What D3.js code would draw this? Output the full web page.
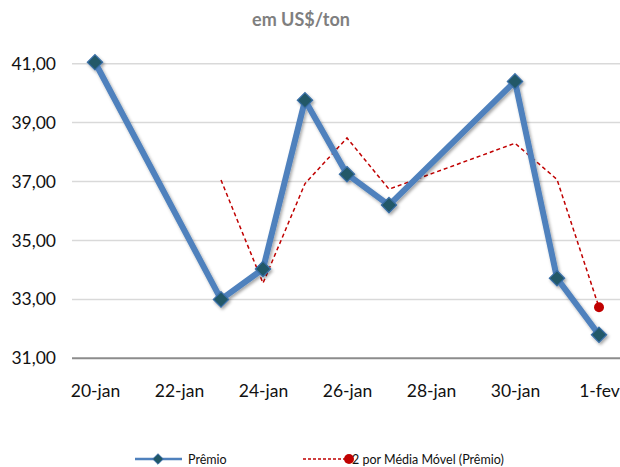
<!DOCTYPE html>
<html>
<head>
<meta charset="utf-8">
<script src="https://cdn.jsdelivr.net/npm/d3@7"></script>
<style>
  body { margin: 0; background: #fff; }
  svg { display: block; font-family: Lato, "Open Sans", sans-serif; }
</style>
</head>
<body>
<svg width="620" height="467"></svg>
<script>
// dates of the observations
var dates = ["2015-01-20","2015-01-23","2015-01-24","2015-01-25","2015-01-26","2015-01-27","2015-01-30","2015-01-31","2015-02-01"];
var premio = [41.05, 33.0, 34.03, 39.76, 37.25, 36.2, 40.4, 33.72, 31.8];
// 2-period moving average, starts at the 2nd point
var mediaMovel = [null, 37.05, 33.55, 36.93, 38.48, 36.74, 38.3, 37.07, 32.73];
var xTicks = ["2015-01-20","2015-01-22","2015-01-24","2015-01-26","2015-01-28","2015-01-30","2015-02-01"];
var yTicks = [31, 33, 35, 37, 39, 41];
var months = ["jan","fev","mar","abr","mai","jun","jul","ago","set","out","nov","dez"];

var svg = d3.select("svg");
var parse = d3.utcParse("%Y-%m-%d");
var halfDay = 12 * 3600 * 1000;

var x = d3.scaleUtc()
  .domain([+parse("2015-01-20") - halfDay, +parse("2015-02-01") + halfDay])
  .range([74, 620]);
var y = d3.scaleLinear().domain([31, 41]).range([358.3, 63.7]);

var defs = svg.append("defs");
var f = defs.append("filter").attr("id", "sh").attr("x", "-10%").attr("y", "-10%").attr("width", "130%").attr("height", "130%");
f.append("feDropShadow").attr("dx", 1.5).attr("dy", 2).attr("stdDeviation", 1.8)
  .attr("flood-color", "#000").attr("flood-opacity", 0.35);

// subtitle
svg.append("text").attr("x", 301).attr("y", 26).attr("text-anchor", "middle")
  .style("font-size", "18px").style("font-weight", "bold").style("fill", "#7f7f7f")
  .text("em US$/ton");

// grid
svg.append("g").selectAll("line").data(yTicks).enter().append("line")
  .attr("x1", 72).attr("x2", 620)
  .attr("y1", function(d) { return y(d); }).attr("y2", function(d) { return y(d); })
  .style("stroke", function(d) { return d === 31 ? "#8c8c8c" : "#d9d9d9"; })
  .style("stroke-width", function(d) { return d === 31 ? 2 : 1.5; });

// y axis labels
var yAxis = d3.axisLeft(y).tickValues(yTicks).tickSize(0).tickPadding(0)
  .tickFormat(function(d) { return d3.format(".2f")(d).replace(".", ","); });
var gy = svg.append("g").attr("transform", "translate(56,0)").call(yAxis);
gy.select(".domain").remove();
gy.selectAll("text").style("font-size", "17.5px").style("fill", "#111").style("font-family", "Lato, 'Open Sans', sans-serif");

// x axis labels
var xAxis = d3.axisBottom(x).tickValues(xTicks.map(parse)).tickSize(0).tickPadding(0)
  .tickFormat(function(d) { return d.getUTCDate() + "-" + months[d.getUTCMonth()]; });
var gx = svg.append("g").attr("transform", "translate(0,385)").call(xAxis);
gx.select(".domain").remove();
gx.selectAll("text").style("font-size", "17.5px").style("fill", "#111").style("font-family", "Lato, 'Open Sans', sans-serif");

var pts = dates.map(function(d, i) { return { date: parse(d), v: premio[i], m: mediaMovel[i] }; });

// moving average
var lineM = d3.line().defined(function(d) { return d.m != null; })
  .x(function(d) { return x(d.date); }).y(function(d) { return y(d.m); });
svg.append("path").datum(pts).attr("d", lineM)
  .style("fill", "none").style("stroke", "#c00000").style("stroke-width", 1.5).style("stroke-dasharray", "4,3");
var lastM = pts[pts.length - 1];
svg.append("circle").attr("cx", x(lastM.date)).attr("cy", y(lastM.m)).attr("r", 5).style("fill", "#c00000");

// premio
var lineP = d3.line().x(function(d) { return x(d.date); }).y(function(d) { return y(d.v); });
var gp = svg.append("g").attr("filter", "url(#sh)");
gp.append("path").datum(pts).attr("d", lineP)
  .style("fill", "none").style("stroke", "#4f81bd").style("stroke-width", 6).style("stroke-linejoin", "round");
var diamond = d3.symbol().type(d3.symbolDiamond2).size(150);
gp.selectAll(".mk").data(pts).enter().append("path").attr("class", "mk")
  .attr("d", diamond)
  .attr("transform", function(d) { return "translate(" + x(d.date) + "," + y(d.v) + ")"; })
  .style("fill", "#215868").style("stroke", "#3b6fa8").style("stroke-width", 1.2);

// legend
var lg = svg.append("g").attr("transform", "translate(0,459)");
lg.append("line").attr("x1", 135).attr("x2", 182).style("stroke", "#4f81bd").style("stroke-width", 2.5);
lg.append("path").attr("d", d3.symbol().type(d3.symbolDiamond2).size(70)).attr("transform", "translate(158,0)")
  .style("fill", "#215868").style("stroke", "#3b6fa8");
lg.append("text").attr("x", 188).attr("y", 4.5).style("font-size", "12.5px").style("fill", "#111").text("Prêmio");
lg.append("line").attr("x1", 303).attr("x2", 346).style("stroke", "#c00000").style("stroke-width", 1.5).style("stroke-dasharray", "3,2");
lg.append("circle").attr("cx", 349).attr("cy", 0).attr("r", 5).style("fill", "#c00000");
lg.append("text").attr("x", 352).attr("y", 4.5).style("font-size", "12.5px").style("fill", "#111").text("2 por Média Móvel (Prêmio)");
</script>
</body>
</html>
